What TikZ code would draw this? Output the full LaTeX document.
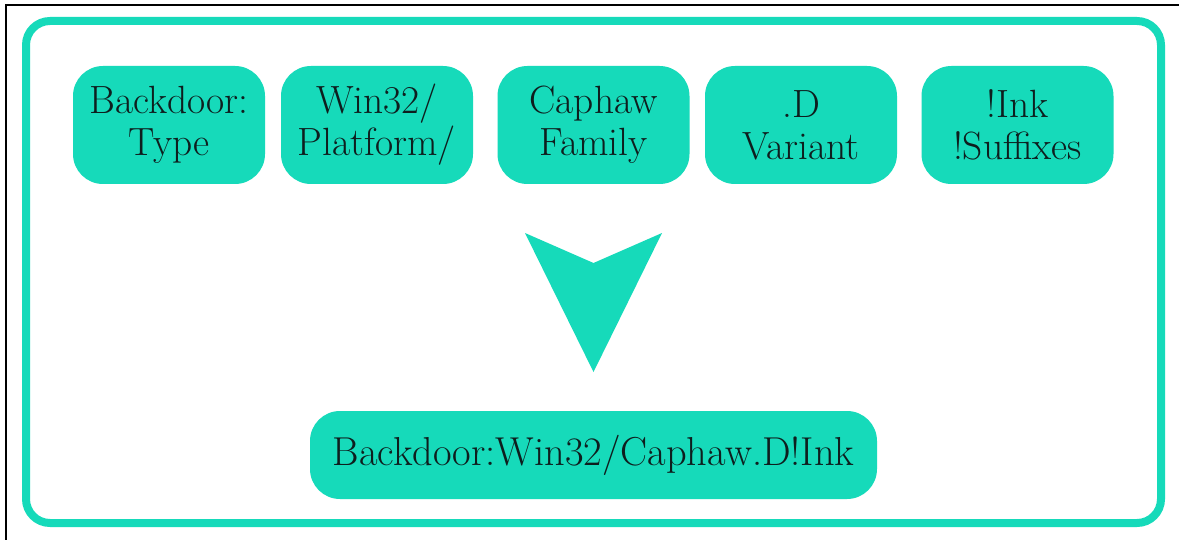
\documentclass[tikz,border=0pt]{standalone}
\usepackage{fontspec}
\setmainfont{Latin Modern Roman}
\definecolor{mint}{RGB}{22,218,186}
\definecolor{ink}{RGB}{14,30,30}
\begin{document}
\begin{tikzpicture}[x=0.5pt,y=-0.5pt,
  part/.style={fill=mint, rounded corners=15pt, text=ink, align=center,
    minimum width=96pt, minimum height=59pt, inner sep=0pt,
    font=\fontsize{19.7}{21}\selectfont},
  whole/.style={part, minimum width=283.5pt, minimum height=44pt,
    font=\fontsize{20.2}{22}\selectfont}
]
\useasboundingbox (0,0) rectangle (1179,540);
\fill[white] (0,0) rectangle (1179,540);
% thin frame along the top and left edges
\draw[line width=1.1pt] (6,545) -- (6,5) -- (1185,5);
% outer rounded panel
\draw[mint, line width=4pt, rounded corners=12pt] (26,21) rectangle (1161,523);

% name components
\node[part] (type)     at (169,125)   {Backdoor:\\Type};
\node[part] (platform) at (377,125)   {Win32/\\Platform/};
\node[part] (family)   at (593.5,125) {Caphaw\\Family};
\node[part] (variant)  at (801,125)   {.D\\Variant};
\node[part] (suffix)   at (1017.5,125){!Ink\\!Suffixes};

% downward arrowhead
\coordinate (al) at (525,233);
\coordinate (an) at (593.5,263);
\coordinate (ar) at (662,233);
\coordinate (at) at (593.5,372);
\fill[mint] (al) -- (an) -- (ar) -- (at) -- cycle;

% full detection name
\node[whole] (full) at (593.5,455) {Backdoor:Win32/Caphaw.D!Ink};
\end{tikzpicture}
\end{document}
